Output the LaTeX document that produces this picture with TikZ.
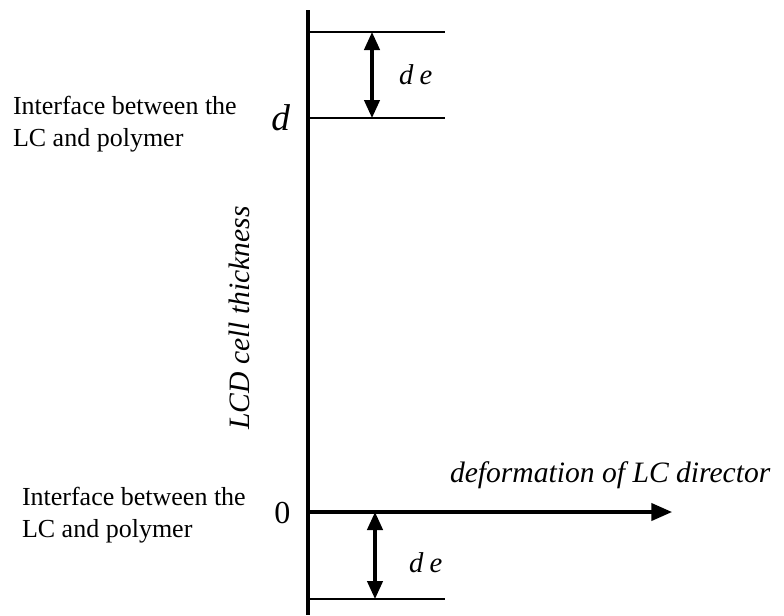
\documentclass[tikz,border=0pt]{standalone}
\usepackage{fontspec}
\setmainfont{Liberation Serif}
\usetikzlibrary{arrows.meta}
\tikzset{
  axisline/.style={line width=2.8pt, black},
  thinline/.style={line width=1.5pt, black},
  dimarrow/.style={line width=2.5pt, black, {Triangle[length=13.5pt,width=11.5pt]}-{Triangle[length=13.5pt,width=11.5pt]}},
  mainarrow/.style={line width=2.3pt, black, -{Triangle[length=15.5pt,width=13pt]}},
  lbl/.style={inner sep=0pt, outer sep=0pt, font=\fontsize{19.5}{24}\selectfont},
  delbl/.style={inner sep=0pt, outer sep=0pt, font=\fontsize{21.5}{24}\selectfont\itshape},
  itlbl/.style={inner sep=0pt, outer sep=0pt, font=\fontsize{22.2}{26}\selectfont\itshape},
}
\begin{document}
\begin{tikzpicture}[x=0.75pt, y=-0.75pt]
\useasboundingbox (0,0) rectangle (784,615);
% coordinates
\coordinate (axtop) at (308,10);
\coordinate (axbot) at (308,615);
\coordinate (t1l) at (308,32);
\coordinate (t1r) at (445,32);
\coordinate (t2l) at (308,118);
\coordinate (t2r) at (445,118);
\coordinate (a1t) at (372,32);
\coordinate (a1b) at (372,118);
\coordinate (o) at (308,512);
\coordinate (xend) at (672,512);
\coordinate (b1l) at (308,599);
\coordinate (b1r) at (445,599);
\coordinate (a2t) at (375,512);
\coordinate (a2b) at (375,599);
% lines
\draw[axisline] (axtop) -- (axbot);
\draw[thinline] (t1l) -- (t1r);
\draw[thinline] (t2l) -- (t2r);
\draw[thinline] (b1l) -- (b1r);
\draw[mainarrow] (o) -- (xend);
\draw[dimarrow] (a1t) -- (a1b);
\draw[dimarrow] (a2t) -- (a2b);
% labels
\node[delbl, anchor=base west] (de1) at (399,84) {d\hspace{0.22em}e};
\node[delbl, anchor=base west] (de2) at (409,572) {d\hspace{0.22em}e};
\node[inner sep=0pt, anchor=base west, font=\fontsize{28}{30}\selectfont\itshape] (dlab) at (271,130) {d};
\node[inner sep=0pt, anchor=base west, font=\fontsize{24}{28}\selectfont] (zlab) at (274,523) {0};
\node[lbl, anchor=base west] (it1) at (13,114) {Interface between the};
\node[lbl, anchor=base west] (it2) at (13,146) {LC and polymer};
\node[lbl, anchor=base west] (ib1) at (22,505) {Interface between the};
\node[lbl, anchor=base west] (ib2) at (22,537) {LC and polymer};
\node[itlbl, anchor=base west] (xlab) at (450,482) {deformation of LC director};
\node[itlbl, anchor=base, rotate=90] (ylab) at (249,318) {LCD cell thickness};
\end{tikzpicture}
\end{document}
